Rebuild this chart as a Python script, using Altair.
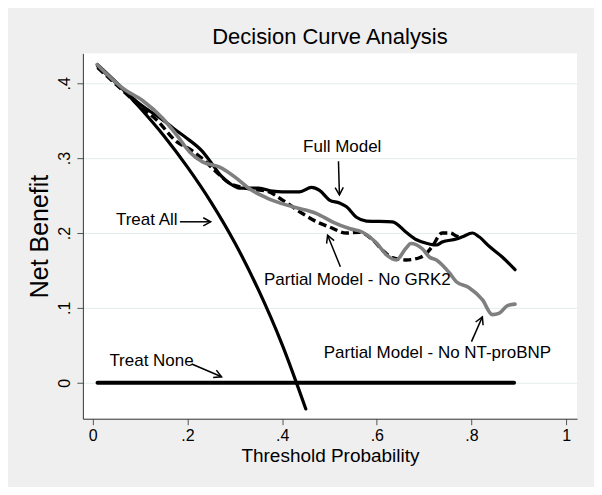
import math
import altair as alt
import pandas as pd

# ---------------- data ----------------
treat_all_x = [0.01, 0.05, 0.10, 0.15, 0.20, 0.25, 0.30, 0.35, 0.40, 0.45]
treat_all_y = [0.425, 0.401, 0.367, 0.330, 0.288, 0.241, 0.187, 0.124, 0.051, -0.035]

treat_none_x = [0.01, 0.89]
treat_none_y = [0.0, 0.0]

full_x = [0.01, 0.05, 0.10, 0.15, 0.17, 0.20, 0.23, 0.25, 0.27, 0.29, 0.31, 0.35, 0.38,
          0.40, 0.437, 0.462, 0.479, 0.50, 0.521, 0.536, 0.557, 0.578, 0.633, 0.662,
          0.684, 0.696, 0.726, 0.738, 0.768, 0.781, 0.802, 0.816, 0.838, 0.865, 0.892]
full_y = [0.423, 0.400, 0.372, 0.350, 0.340, 0.326, 0.310, 0.294, 0.277, 0.266, 0.260,
          0.260, 0.256, 0.255, 0.255, 0.261, 0.257, 0.244, 0.240, 0.235, 0.221, 0.216,
          0.215, 0.201, 0.191, 0.188, 0.184, 0.188, 0.192, 0.195, 0.200, 0.195, 0.182,
          0.168, 0.151]

grk2_x = [0.01, 0.05, 0.10, 0.135, 0.177, 0.205, 0.23, 0.262, 0.29, 0.316, 0.34, 0.367,
          0.401, 0.443, 0.473, 0.50, 0.536, 0.563, 0.591, 0.612, 0.633, 0.662, 0.69,
          0.705, 0.717, 0.738, 0.755, 0.768, 0.78]
grk2_y = [0.421, 0.398, 0.369, 0.351, 0.322, 0.312, 0.300, 0.281, 0.266, 0.261, 0.258,
          0.256, 0.244, 0.226, 0.215, 0.208, 0.200, 0.201, 0.191, 0.177, 0.167, 0.164,
          0.167, 0.173, 0.182, 0.200, 0.200, 0.196, 0.194]

bnp_x = [0.009, 0.064, 0.105, 0.148, 0.177, 0.205, 0.232, 0.268, 0.304, 0.331, 0.367,
         0.422, 0.473, 0.506, 0.542, 0.57, 0.599, 0.620, 0.641, 0.662, 0.672, 0.696,
         0.711, 0.726, 0.753, 0.768, 0.795, 0.823, 0.844, 0.859, 0.876, 0.892]
bnp_y = [0.425, 0.393, 0.377, 0.353, 0.331, 0.308, 0.295, 0.288, 0.273, 0.259, 0.247,
         0.235, 0.226, 0.215, 0.206, 0.201, 0.187, 0.171, 0.164, 0.180, 0.186, 0.179,
         0.168, 0.164, 0.147, 0.135, 0.127, 0.111, 0.091, 0.093, 0.103, 0.105]

labels = ["Full Model", "Treat All", "Treat None", "Partial Model - No GRK2",
          "Partial Model - No NT-proBNP"]
label_x = [0.527, 0.114, 0.124, 0.559, 0.728]
label_y = [0.315, 0.217, 0.029, 0.137, 0.040]

arrow_x1 = [0.519, 0.184, 0.209, 0.523, 0.800]
arrow_y1 = [0.296, 0.215, 0.025, 0.155, 0.055]
arrow_x2 = [0.521, 0.249, 0.272, 0.496, 0.823]
arrow_y2 = [0.251, 0.215, 0.008, 0.197, 0.088]

x_ticks = [0, 0.2, 0.4, 0.6, 0.8, 1]
y_ticks = [0, 0.1, 0.2, 0.3, 0.4]

# ---------------- layout ----------------
W, H = 495, 366
X_DOM = [-0.021, 1.023]
Y_DOM = [-0.048, 0.44]
FONT = "Liberation Sans, Arial, sans-serif"

px_x = W / (X_DOM[1] - X_DOM[0])
px_y = H / (Y_DOM[1] - Y_DOM[0])

def df(xs, ys):
    return pd.DataFrame({"x": xs, "y": ys})

xs = alt.Scale(domain=X_DOM, nice=False, zero=False)
ys = alt.Scale(domain=Y_DOM, nice=False, zero=False)

lab_expr = ("datum.value == 0 ? '0' : datum.value >= 1 ? '1' : "
            "replace(format(datum.value, '.1f'), '0.', '.')")

x_enc = alt.X("x:Q", scale=xs, title="Threshold Probability",
              axis=alt.Axis(values=x_ticks, labelExpr=lab_expr, grid=False,
                            tickSize=6, labelPadding=3, titlePadding=3,
                            labelFontSize=16, titleFontSize=19,
                            domainColor="#333333", tickColor="#555555",
                            labelColor="black", titleColor="black",
                            labelFont=FONT, titleFont=FONT, titleFontWeight="normal"))
y_enc = alt.Y("y:Q", scale=ys, title="Net Benefit",
              axis=alt.Axis(values=y_ticks, labelExpr=lab_expr, grid=True,
                            gridColor="#e3eded", gridWidth=1,
                            tickSize=6, labelPadding=4, titlePadding=4,
                            labelAngle=270, labelAlign="center", labelBaseline="bottom",
                            labelFontSize=16, titleFontSize=25,
                            domainColor="#333333", tickColor="#555555",
                            labelColor="black", titleColor="black",
                            labelFont=FONT, titleFont=FONT, titleFontWeight="normal"))

base_axes = alt.Chart(df(treat_none_x, treat_none_y)).mark_line(
    strokeWidth=4, color="black", strokeCap="round").encode(x=x_enc, y=y_enc)

def curve(xs_, ys_, color, width, dash=None):
    kw = dict(color=color, strokeWidth=width, interpolate="monotone",
              strokeCap="round", strokeJoin="round")
    if dash:
        kw["strokeDash"] = dash
        kw["strokeCap"] = "butt"
    return alt.Chart(df(xs_, ys_)).mark_line(**kw).encode(
        x=alt.X("x:Q", scale=xs), y=alt.Y("y:Q", scale=ys))

treat_all = curve(treat_all_x, treat_all_y, "black", 3.2)
full = curve(full_x, full_y, "black", 3.2)
grk2 = curve(grk2_x, grk2_y, "black", 3.4, dash=[8, 4])
bnp = curve(bnp_x, bnp_y, "#7f7f7f", 3.6)

ann = pd.DataFrame({"label": labels, "x": label_x, "y": label_y})
texts = alt.Chart(ann).mark_text(font=FONT, fontSize=17, color="black",
                                  align="center", baseline="middle").encode(
    x=alt.X("x:Q", scale=xs), y=alt.Y("y:Q", scale=ys), text="label:N")

angles = []
for a, b, c, d in zip(arrow_x1, arrow_y1, arrow_x2, arrow_y2):
    ang = math.degrees(math.atan2(-(d - b) * px_y, (c - a) * px_x)) % 360
    angles.append(ang)
arr = pd.DataFrame({"x": arrow_x1, "y": arrow_y1, "x2": arrow_x2, "y2": arrow_y2,
                    "angle": angles})
shafts = alt.Chart(arr).mark_rule(color="black", strokeWidth=1.5).encode(
    x=alt.X("x:Q", scale=xs), y=alt.Y("y:Q", scale=ys), x2="x2:Q", y2="y2:Q")
heads = alt.Chart(arr).mark_point(
    shape="M-1,-0.55L0,0L-1,0.55", filled=False, color="black",
    strokeWidth=1.5, size=220, opacity=1).encode(
    x=alt.X("x2:Q", scale=xs), y=alt.Y("y2:Q", scale=ys),
    angle=alt.Angle("angle:Q", scale=None))

chart = alt.layer(base_axes, treat_all, full, grk2, bnp, shafts, heads, texts).properties(
    width=W, height=H,
    title=alt.TitleParams("Decision Curve Analysis", font=FONT, fontSize=22,
                          fontWeight="normal", color="black", offset=4,
                          anchor="middle"),
    autosize=alt.AutoSizeParams(type="none"),
    padding={"left": 75, "top": 45, "right": 17, "bottom": 68},
    background="#efefef",
).configure_view(fill="white", stroke=None)

chart.save("out.html", embed_options={"renderer": "svg", "actions": False})
